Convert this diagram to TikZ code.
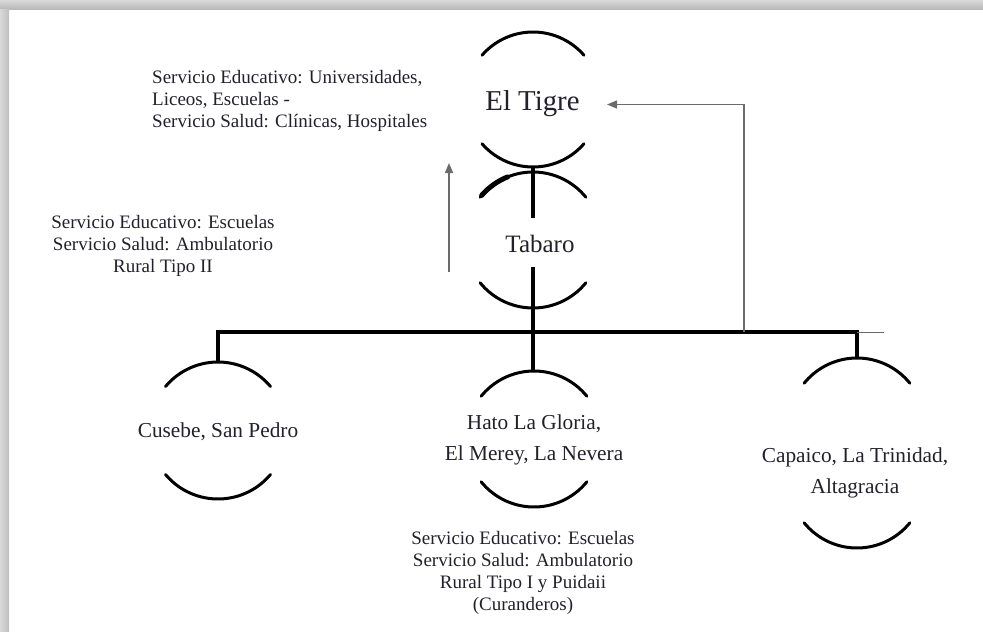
\documentclass[tikz,border=0pt]{standalone}
\usepackage{fontspec}
\setmainfont{Liberation Serif}
\usetikzlibrary{arrows.meta}
\definecolor{txt}{rgb}{0.13,0.13,0.16}
\definecolor{thinline}{gray}{0.42}
\newcommand\ringarc[5][]{\draw[arcline,#1,shift={#2}] plot[domain=#4:#5,samples=40] ({#3*cos(\x)},{#3*sin(\x)});}
\begin{document}
\begin{tikzpicture}[x=1pt,y=-1pt,
  arcline/.style={line width=3pt, line cap=round},
  stem/.style={line width=3.6pt},
  guide/.style={draw=thinline, line width=1.3pt},
  arr/.style={guide, -{Triangle[length=10pt,width=8pt]}},
  place/.style={inner sep=0pt, text=txt, anchor=base, align=center},
  big/.style={font=\fontsize{28.8}{30}\selectfont},
  mid/.style={font=\fontsize{25}{28}\selectfont},
  town/.style={font=\fontsize{21.3}{30.5}\selectfont},
  note/.style={font=\fontsize{19}{21.8}\selectfont}]
\useasboundingbox (0,0) rectangle (983,632);
% frame shadow
\shade[top color=gray!30, bottom color=gray!55] (0,0) rectangle (983,9);
\shade[left color=gray!30, right color=gray!50] (0,9) rectangle (9,632);

% circle centres
\coordinate (tigreC) at (533,99.5);
\coordinate (tabC) at (533,240);
\coordinate (cusC) at (218,430.5);
\coordinate (hatoC) at (534,439);
\coordinate (capCu) at (857,426);
\coordinate (capCl) at (857,480);

% arcs
\ringarc{(tigreC)}{67.5}{-139}{-41}
\ringarc{(tigreC)}{67.5}{41}{139}
\ringarc{(tabC)}{68}{-141}{-39}
\ringarc[line width=5pt]{(tabC)}{68}{-139}{-112}
\ringarc{(tabC)}{68}{39}{141}
\ringarc{(cusC)}{68.5}{-140}{-40}
\ringarc{(cusC)}{68.5}{40}{140}
\ringarc{(hatoC)}{68}{-141}{-39}
\ringarc{(hatoC)}{68}{39}{141}
\ringarc{(capCu)}{68}{-141}{-39}
\ringarc{(capCl)}{68}{39}{141}

% texts (multi-line nodes: base = last line's baseline)
\node[place,big] (tigre) at (532.5,110) {El Tigre};
\node[place,mid] (tabaro) at (540,252) {Tabaro};
\node[place,town] (cusebe) at (218,437) {Cusebe, San Pedro};
\node[place,town] (hato) at (534,460) {Hato La Gloria,\\El Merey, La Nevera};
\node[place,town] (capaico) at (855,493) {Capaico, La Trinidad,\\Altagracia};
\node[place,note,align=left,anchor=base west] (noteTop) at (152,127)
  {Servicio Educativo: Universidades,\\Liceos, Escuelas -\\Servicio Salud: Clínicas, Hospitales};
\node[place,note] (noteMid) at (163,272)
  {Servicio Educativo: Escuelas\\Servicio Salud: Ambulatorio\\Rural Tipo II};
\node[place,note] (noteBot) at (523,610)
  {Servicio Educativo: Escuelas\\Servicio Salud: Ambulatorio\\Rural Tipo I y Puidaii\\(Curanderos)};

% connector points
\coordinate (tigreBot) at (533,167);
\coordinate (tabStemTop) at (533,218);
\coordinate (tabStemBot) at (533,267);
\coordinate (hatoTop) at (533,371);
\coordinate (busL) at (218,332);
\coordinate (cusTop) at (218,362);
\coordinate (busR) at (857,332);
\coordinate (capTop) at (857,358);
\coordinate (busEnd) at (884,332);
\coordinate (riseFoot) at (744,332);
\coordinate (tigreIn) at (607,104.5);
\coordinate (upFoot) at (449,272);
\coordinate (upTip) at (449,163);

% connectors
\draw[stem] (tigreBot) -- (tabStemTop);
\draw[stem] (tabStemBot) -- (hatoTop);
\draw[stem, line join=miter] (cusTop) -- (busL) -- (busR) -- (capTop);
\draw[guide, line width=1pt] (busR) -- (busEnd);
\draw[arr] (riseFoot) |- (tigreIn);
\draw[arr] (upFoot) -- (upTip);
\end{tikzpicture}
\end{document}
